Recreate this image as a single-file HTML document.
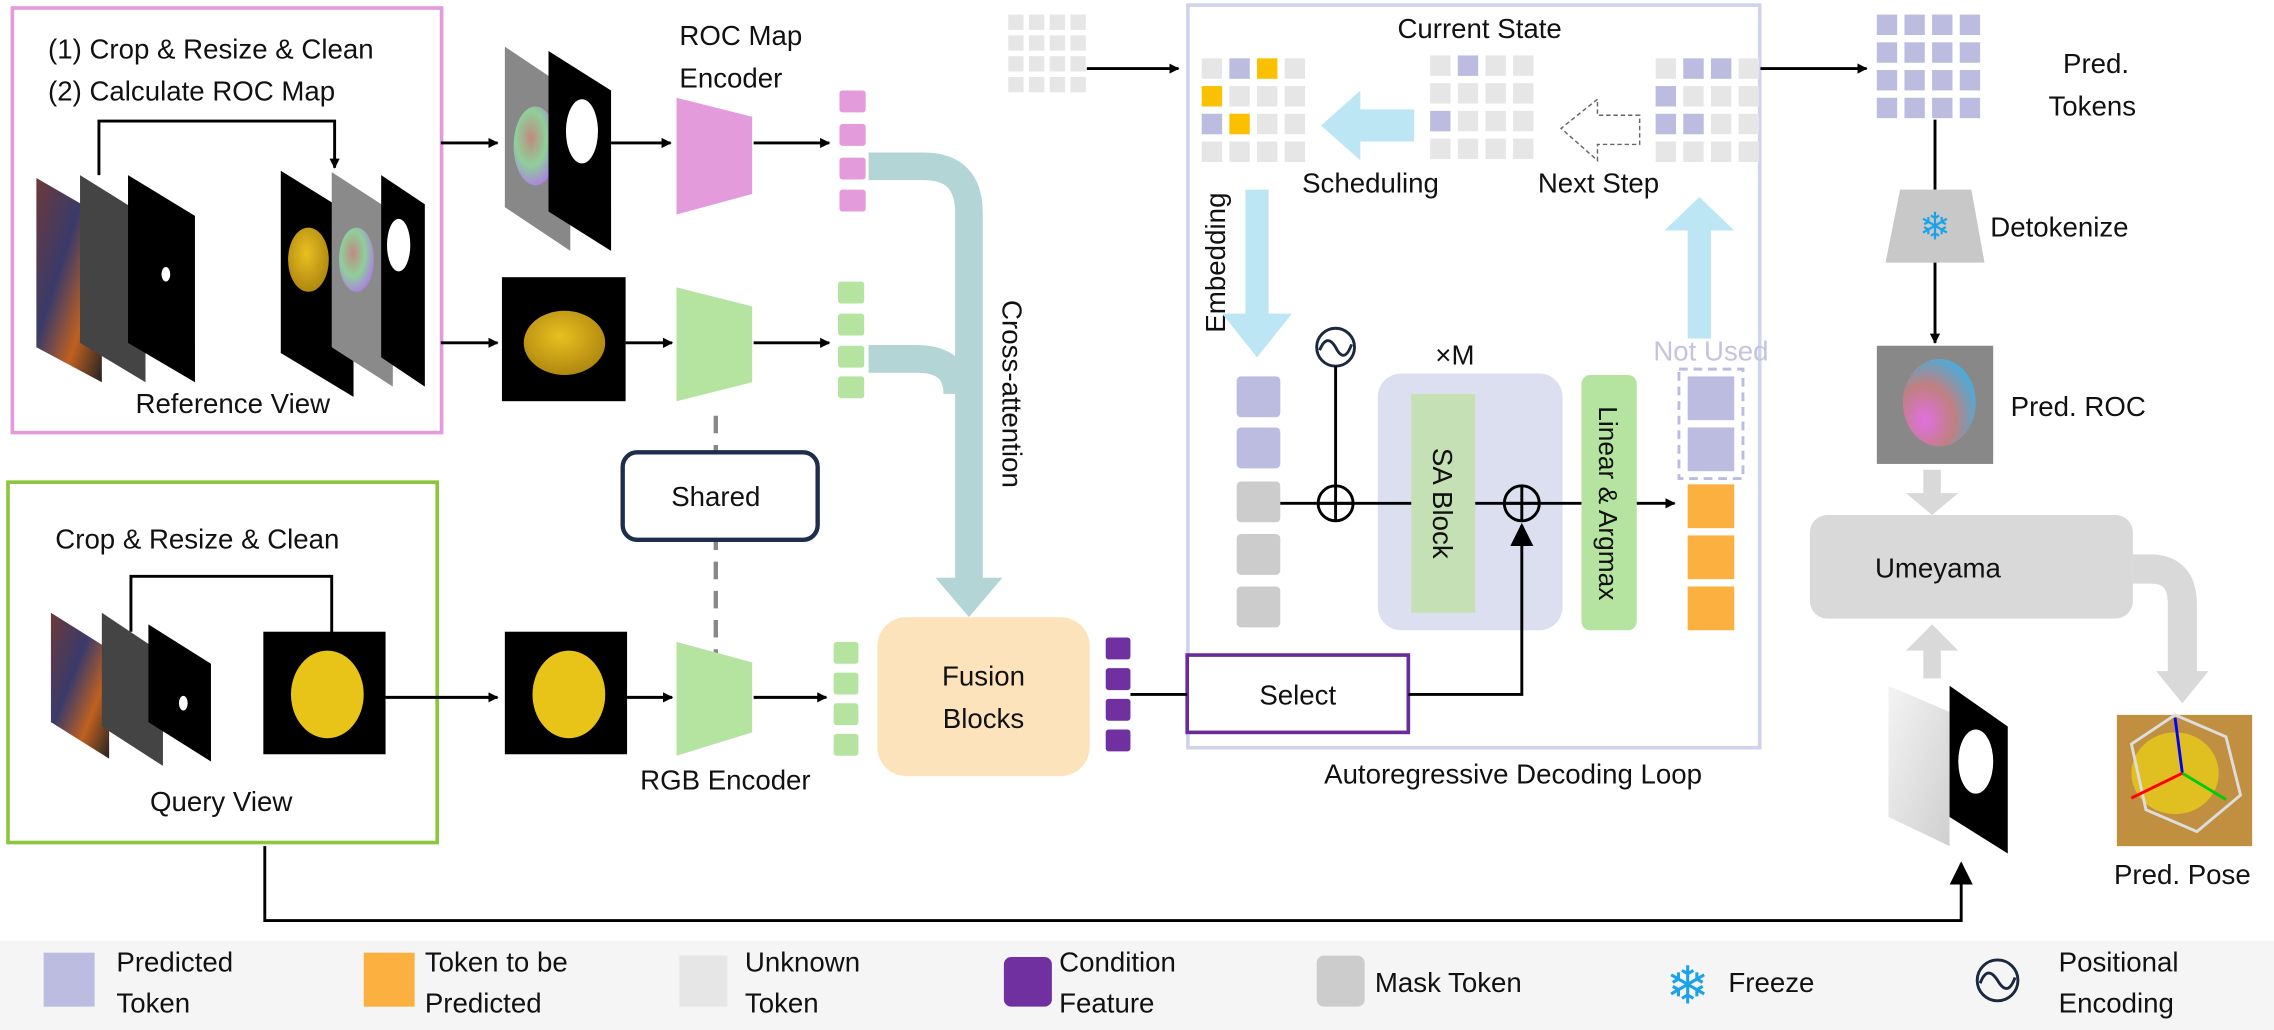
<!DOCTYPE html>
<html><head><meta charset="utf-8"><style>
html,body{margin:0;padding:0;background:#fff}
svg{display:block}
text{font-family:"Liberation Sans",sans-serif;fill:#111}
</style></head><body>
<svg width="2274" height="1030" viewBox="0 0 1563 706" preserveAspectRatio="none" xmlns="http://www.w3.org/2000/svg">
<defs>
<marker id="ah" viewBox="0 0 10 10" refX="9" refY="5" markerWidth="7" markerHeight="7" orient="auto" markerUnits="userSpaceOnUse"><path d="M0,0L10,5L0,10z" fill="#000"/></marker>
<marker id="ahb" viewBox="0 0 10 10" refX="9" refY="5" markerWidth="16" markerHeight="16" orient="auto" markerUnits="userSpaceOnUse"><path d="M0,0L10,5L0,10z" fill="#000"/></marker>
<g id="g4">
<rect x="0" y="0" width="14" height="14" fill="#e6e6e6"/><rect x="19" y="0" width="14" height="14" fill="#e6e6e6"/><rect x="38" y="0" width="14" height="14" fill="#e6e6e6"/><rect x="57" y="0" width="14" height="14" fill="#e6e6e6"/>
<rect x="0" y="19" width="14" height="14" fill="#e6e6e6"/><rect x="19" y="19" width="14" height="14" fill="#e6e6e6"/><rect x="38" y="19" width="14" height="14" fill="#e6e6e6"/><rect x="57" y="19" width="14" height="14" fill="#e6e6e6"/>
<rect x="0" y="38" width="14" height="14" fill="#e6e6e6"/><rect x="19" y="38" width="14" height="14" fill="#e6e6e6"/><rect x="38" y="38" width="14" height="14" fill="#e6e6e6"/><rect x="57" y="38" width="14" height="14" fill="#e6e6e6"/>
<rect x="0" y="57" width="14" height="14" fill="#e6e6e6"/><rect x="19" y="57" width="14" height="14" fill="#e6e6e6"/><rect x="38" y="57" width="14" height="14" fill="#e6e6e6"/><rect x="57" y="57" width="14" height="14" fill="#e6e6e6"/>
</g>
<radialGradient id="roc" cx="0.4" cy="0.4" r="0.7"><stop offset="0" stop-color="#c08a80"/><stop offset="0.5" stop-color="#8fcf9a"/><stop offset="1" stop-color="#b070f0"/></radialGradient>
<radialGradient id="roc2" cx="0.3" cy="0.7" r="0.8"><stop offset="0" stop-color="#e070e0"/><stop offset="0.5" stop-color="#c08080"/><stop offset="1" stop-color="#40b0e0"/></radialGradient>
<radialGradient id="duck" cx="0.45" cy="0.4" r="0.6"><stop offset="0" stop-color="#e8c020"/><stop offset="1" stop-color="#b08810"/></radialGradient>
<linearGradient id="scene" x1="0" y1="0" x2="1" y2="1"><stop offset="0" stop-color="#6b3a3a"/><stop offset="0.4" stop-color="#3a3a6a"/><stop offset="0.7" stop-color="#c06020"/><stop offset="1" stop-color="#222"/></linearGradient>
<linearGradient id="depth" x1="0" y1="0" x2="1" y2="1"><stop offset="0" stop-color="#f4f4f4"/><stop offset="1" stop-color="#cfcfcf"/></linearGradient>
</defs>

<rect x="8.5" y="5.5" width="295" height="291" fill="none" stroke="#e49bdc" stroke-width="2.5"/>
<text x="33" y="40" font-size="19">(1) Crop &amp; Resize &amp; Clean</text>
<text x="33" y="69" font-size="19">(2) Calculate ROC Map</text>
<path d="M68,120V83H230V115" fill="none" stroke="#000" stroke-width="2" marker-end="url(#ah)"/>
<polygon points="25,122 70,148 70,262 25,238" fill="url(#scene)"/>
<polygon points="55,120 100,148 100,262 55,235" fill="#444"/>
<polygon points="88,120 134,148 134,262 88,235" fill="#000"/>
<ellipse cx="114" cy="188" rx="3" ry="5" fill="#fff"/>
<polygon points="193,117 243,148 243,272 193,242" fill="#000"/>
<ellipse cx="212" cy="178" rx="14" ry="22" fill="url(#duck)"/>
<polygon points="228,118 270,145 270,265 228,238" fill="#8a8a8a"/>
<ellipse cx="245" cy="178" rx="12" ry="22" fill="url(#roc)"/>
<polygon points="262,120 292,140 292,265 262,245" fill="#000"/>
<ellipse cx="274" cy="168" rx="8" ry="18" fill="#fff"/>
<text x="160" y="283" font-size="19" text-anchor="middle">Reference View</text>

<line x1="303" y1="98" x2="342" y2="98" stroke="#000" stroke-width="2" marker-end="url(#ah)"/>
<polygon points="347,32 392,62 392,172 347,142" fill="#888"/>
<ellipse cx="368" cy="100" rx="15" ry="27" fill="url(#roc)"/>
<polygon points="377,35 420,62 420,172 377,145" fill="#000"/>
<ellipse cx="400" cy="90" rx="11" ry="22" fill="#fff"/>
<line x1="420" y1="98" x2="461" y2="98" stroke="#000" stroke-width="2" marker-end="url(#ah)"/>
<text x="467" y="31" font-size="19">ROC Map</text>
<text x="467" y="60" font-size="19">Encoder</text>
<polygon points="465,67 517,80 517,133 465,147" fill="#e49bdc"/>
<line x1="518" y1="98" x2="570" y2="98" stroke="#000" stroke-width="2" marker-end="url(#ah)"/>
<rect x="577" y="62" width="18" height="15" rx="2" fill="#e49bdc"/>
<rect x="577" y="85" width="18" height="15" rx="2" fill="#e49bdc"/>
<rect x="577" y="108" width="18" height="15" rx="2" fill="#e49bdc"/>
<rect x="577" y="130" width="18" height="15" rx="2" fill="#e49bdc"/>

<line x1="303" y1="235" x2="342" y2="235" stroke="#000" stroke-width="2" marker-end="url(#ah)"/>
<rect x="345" y="190" width="85" height="85" fill="#000"/>
<ellipse cx="388" cy="235" rx="28" ry="22" fill="url(#duck)"/>
<line x1="430" y1="235" x2="462" y2="235" stroke="#000" stroke-width="2" marker-end="url(#ah)"/>
<polygon points="465,197 517,210 517,262 465,275" fill="#b5e3a0"/>
<line x1="518" y1="235" x2="570" y2="235" stroke="#000" stroke-width="2" marker-end="url(#ah)"/>
<rect x="576" y="193" width="18" height="15" rx="2" fill="#b5e3a0"/>
<rect x="576" y="215" width="18" height="15" rx="2" fill="#b5e3a0"/>
<rect x="576" y="237" width="18" height="15" rx="2" fill="#b5e3a0"/>
<rect x="576" y="258" width="18" height="15" rx="2" fill="#b5e3a0"/>

<path d="M597,114H635Q666,114 666,146V398" fill="none" stroke="#b3d5d5" stroke-width="19"/>
<path d="M597,246H630Q658,246 658,270" fill="none" stroke="#b3d5d5" stroke-width="19"/>
<polygon points="643,396 689,396 666,423" fill="#b3d5d5"/>
<text transform="translate(689,270) rotate(90)" font-size="19" text-anchor="middle">Cross-attention</text>

<line x1="492" y1="285" x2="492" y2="450" stroke="#888" stroke-width="3" stroke-dasharray="12,8"/>
<rect x="428" y="310" width="134" height="60" rx="10" fill="#fff" stroke="#1f2d4d" stroke-width="3"/>
<text x="492" y="347" font-size="19" text-anchor="middle">Shared</text>

<rect x="5.5" y="330.5" width="295" height="247" fill="none" stroke="#8cc63f" stroke-width="2.5"/>
<text x="38" y="376" font-size="19">Crop &amp; Resize &amp; Clean</text>
<path d="M90,433V395H228V456" fill="none" stroke="#000" stroke-width="2" marker-end="url(#ah)"/>
<polygon points="35,420 75,445 75,520 35,495" fill="url(#scene)"/>
<polygon points="70,420 112,448 112,525 70,498" fill="#444"/>
<polygon points="102,428 145,455 145,522 102,495" fill="#000"/>
<ellipse cx="126" cy="482" rx="3" ry="5" fill="#fff"/>
<rect x="181" y="433" width="84" height="84" fill="#000"/>
<ellipse cx="225" cy="476" rx="25" ry="30" fill="#e8c418"/>
<text x="152" y="556" font-size="19" text-anchor="middle">Query View</text>
<line x1="265" y1="478" x2="342" y2="478" stroke="#000" stroke-width="2" marker-end="url(#ah)"/>
<rect x="347" y="433" width="84" height="84" fill="#000"/>
<ellipse cx="391" cy="476" rx="25" ry="30" fill="#e8c418"/>
<line x1="431" y1="478" x2="462" y2="478" stroke="#000" stroke-width="2" marker-end="url(#ah)"/>
<polygon points="465,440 517,454 517,502 465,518" fill="#b5e3a0"/>
<text x="440" y="541" font-size="19">RGB Encoder</text>
<line x1="518" y1="478" x2="568" y2="478" stroke="#000" stroke-width="2" marker-end="url(#ah)"/>
<rect x="573" y="440" width="17" height="15" rx="2" fill="#b5e3a0"/>
<rect x="573" y="461" width="17" height="15" rx="2" fill="#b5e3a0"/>
<rect x="573" y="482" width="17" height="15" rx="2" fill="#b5e3a0"/>
<rect x="573" y="503" width="17" height="15" rx="2" fill="#b5e3a0"/>
<rect x="603" y="423" width="146" height="109" rx="20" fill="#fde3bb"/>
<text x="676" y="470" font-size="19" text-anchor="middle">Fusion</text>
<text x="676" y="499" font-size="19" text-anchor="middle">Blocks</text>
<rect x="760" y="437" width="17" height="15" rx="2" fill="#7030a0"/>
<rect x="760" y="458" width="17" height="15" rx="2" fill="#7030a0"/>
<rect x="760" y="479" width="17" height="15" rx="2" fill="#7030a0"/>
<rect x="760" y="500" width="17" height="15" rx="2" fill="#7030a0"/>

<path d="M182,580V631H1348V592" fill="none" stroke="#000" stroke-width="2" marker-end="url(#ahb)"/>

<use href="#g4" transform="translate(693,10) scale(0.75)"/>
<line x1="747" y1="47" x2="810" y2="47" stroke="#000" stroke-width="2" marker-end="url(#ah)"/>

<rect x="816.5" y="3.5" width="393" height="509" fill="none" stroke="#d0d3ec" stroke-width="2.5"/>
<text x="1040" y="537" font-size="19" text-anchor="middle">Autoregressive Decoding Loop</text>
<text x="1017" y="26" font-size="19" text-anchor="middle">Current State</text>
<use href="#g4" x="826" y="40"/>
<rect x="845" y="40" width="14" height="14" fill="#bcbce0"/><rect x="864" y="40" width="14" height="14" fill="#fbc000"/>
<rect x="826" y="59" width="14" height="14" fill="#fbc000"/>
<rect x="826" y="78" width="14" height="14" fill="#bcbce0"/><rect x="845" y="78" width="14" height="14" fill="#fbc000"/>
<use href="#g4" x="983" y="38"/>
<rect x="1002" y="38" width="14" height="14" fill="#bcbce0"/>
<rect x="983" y="76" width="14" height="14" fill="#bcbce0"/>
<use href="#g4" x="1138" y="40"/>
<rect x="1157" y="40" width="14" height="14" fill="#bcbce0"/><rect x="1176" y="40" width="14" height="14" fill="#bcbce0"/>
<rect x="1138" y="59" width="14" height="14" fill="#bcbce0"/>
<rect x="1138" y="78" width="14" height="14" fill="#bcbce0"/><rect x="1157" y="78" width="14" height="14" fill="#bcbce0"/>
<polygon points="972,75 935,75 935,62 908,86 935,110 935,97 972,97" fill="#bde6f5"/>
<polygon points="1127,79 1098,79 1098,68 1073,88 1098,110 1098,99 1127,99" fill="none" stroke="#666" stroke-width="1" stroke-dasharray="3,2"/>
<text x="895" y="132" font-size="19">Scheduling</text>
<text x="1057" y="132" font-size="19">Next Step</text>
<text transform="translate(842,180) rotate(-90)" font-size="19" text-anchor="middle">Embedding</text>
<polygon points="856,130 872,130 872,215 888,215 864,245 840,215 856,215" fill="#bde6f5"/>
<polygon points="1160,232 1176,232 1176,158 1192,158 1168,135 1144,158 1160,158" fill="#bde6f5"/>

<circle cx="918" cy="238" r="13" fill="none" stroke="#1a2840" stroke-width="2"/>
<path d="M907,240Q912,228 918,238Q924,250 929,236" fill="none" stroke="#1a2840" stroke-width="2"/>
<line x1="918" y1="251" x2="918" y2="333" stroke="#000" stroke-width="2"/>
<rect x="850" y="258" width="30" height="28" rx="3" fill="#bcbce0"/>
<rect x="850" y="293" width="30" height="28" rx="3" fill="#bcbce0"/>
<rect x="850" y="330" width="30" height="28" rx="3" fill="#cccccc"/>
<rect x="850" y="366" width="30" height="28" rx="3" fill="#cccccc"/>
<rect x="850" y="402" width="30" height="28" rx="3" fill="#cccccc"/>
<text x="1000" y="250" font-size="19" text-anchor="middle">×M</text>
<rect x="947" y="256" width="127" height="176" rx="16" fill="#dcdff0"/>
<rect x="970" y="270" width="44" height="150" fill="#c5e0b4"/>
<line x1="880" y1="345" x2="970" y2="345" stroke="#000" stroke-width="2"/>
<line x1="1014" y1="345" x2="1087" y2="345" stroke="#000" stroke-width="2"/>
<circle cx="918" cy="345" r="12" fill="none" stroke="#000" stroke-width="2"/>
<line x1="906" y1="345" x2="930" y2="345" stroke="#000" stroke-width="2"/><line x1="918" y1="333" x2="918" y2="357" stroke="#000" stroke-width="2"/>
<text transform="translate(985,345) rotate(90)" font-size="19" text-anchor="middle">SA Block</text>
<circle cx="1046" cy="345" r="12" fill="none" stroke="#000" stroke-width="2"/>
<line x1="1034" y1="345" x2="1058" y2="345" stroke="#000" stroke-width="2"/><line x1="1046" y1="333" x2="1046" y2="357" stroke="#000" stroke-width="2"/>
<rect x="1087" y="257" width="38" height="175" rx="6" fill="#b5e3a0"/>
<text transform="translate(1099,345) rotate(90)" font-size="18" text-anchor="middle">Linear &amp; Argmax</text>
<line x1="1125" y1="345" x2="1151" y2="345" stroke="#000" stroke-width="2" marker-end="url(#ah)"/>
<text x="1176" y="247" font-size="19" text-anchor="middle" style="fill:#c5c3e0">Not Used</text>
<rect x="1154" y="253" width="44" height="75" fill="none" stroke="#bcbce0" stroke-width="2" stroke-dasharray="6,4"/>
<rect x="1160" y="258" width="32" height="30" fill="#bcbce0"/>
<rect x="1160" y="293" width="32" height="30" fill="#bcbce0"/>
<rect x="1160" y="332" width="32" height="30" fill="#fbb040"/>
<rect x="1160" y="367" width="32" height="30" fill="#fbb040"/>
<rect x="1160" y="402" width="32" height="30" fill="#fbb040"/>
<rect x="816" y="449" width="152" height="53" fill="#fff" stroke="#6a2c9c" stroke-width="2.5"/>
<text x="892" y="483" font-size="19" text-anchor="middle">Select</text>
<line x1="777" y1="476" x2="816" y2="476" stroke="#000" stroke-width="2"/>
<path d="M968,476H1046V360" fill="none" stroke="#000" stroke-width="2" marker-end="url(#ahb)"/>

<line x1="1210" y1="47" x2="1283" y2="47" stroke="#000" stroke-width="2" marker-end="url(#ah)"/>
<g fill="#bcbce0">
<rect x="1290" y="10" width="14" height="14"/><rect x="1309" y="10" width="14" height="14"/><rect x="1328" y="10" width="14" height="14"/><rect x="1347" y="10" width="14" height="14"/>
<rect x="1290" y="29" width="14" height="14"/><rect x="1309" y="29" width="14" height="14"/><rect x="1328" y="29" width="14" height="14"/><rect x="1347" y="29" width="14" height="14"/>
<rect x="1290" y="48" width="14" height="14"/><rect x="1309" y="48" width="14" height="14"/><rect x="1328" y="48" width="14" height="14"/><rect x="1347" y="48" width="14" height="14"/>
<rect x="1290" y="67" width="14" height="14"/><rect x="1309" y="67" width="14" height="14"/><rect x="1328" y="67" width="14" height="14"/><rect x="1347" y="67" width="14" height="14"/>
</g>
<text x="1418" y="50" font-size="19">Pred.</text>
<text x="1408" y="79" font-size="19">Tokens</text>
<line x1="1330" y1="82" x2="1330" y2="130" stroke="#000" stroke-width="2"/>
<polygon points="1306,130 1355,130 1364,180 1296,180" fill="#c8c8c8"/>
<text x="1330" y="164" font-size="26" text-anchor="middle" style="fill:#1aa3e8">❄</text>
<text x="1368" y="162" font-size="19">Detokenize</text>
<line x1="1330" y1="180" x2="1330" y2="235" stroke="#000" stroke-width="2" marker-end="url(#ah)"/>
<rect x="1290" y="237" width="80" height="81" fill="#888"/>
<ellipse cx="1333" cy="276" rx="25" ry="30" fill="url(#roc2)"/>
<text x="1382" y="285" font-size="19">Pred. ROC</text>
<polygon points="1322,322 1334,322 1334,338 1346,338 1328,353 1310,338 1322,338" fill="#d9d9d9"/>
<rect x="1244" y="353" width="222" height="71" rx="12" fill="#d9d9d9"/>
<text x="1332" y="396" font-size="19" text-anchor="middle">Umeyama</text>
<path d="M1466,390H1478Q1500,390 1500,414V462" fill="none" stroke="#d9d9d9" stroke-width="20"/>
<polygon points="1482,460 1518,460 1500,482" fill="#d9d9d9"/>
<polygon points="1322,465 1334,465 1334,446 1346,446 1328,428 1310,446 1322,446" fill="#d9d9d9"/>
<polygon points="1298,470 1340,488 1340,580 1298,560" fill="url(#depth)"/>
<polygon points="1340,470 1380,498 1380,585 1340,560" fill="#000"/>
<ellipse cx="1358" cy="522" rx="12" ry="22" fill="#fff"/>
<rect x="1455" y="490" width="93" height="90" fill="#c09040"/>
<ellipse cx="1495" cy="530" rx="30" ry="28" fill="#e0c020"/>
<polygon points="1465,510 1495,490 1530,505 1540,545 1510,570 1475,555" fill="none" stroke="#ddd" stroke-width="2"/>
<line x1="1500" y1="530" x2="1495" y2="492" stroke="#00f" stroke-width="2"/><line x1="1500" y1="530" x2="1530" y2="548" stroke="#0c0" stroke-width="2"/><line x1="1500" y1="530" x2="1465" y2="547" stroke="#f00" stroke-width="2"/>
<text x="1500" y="606" font-size="19" text-anchor="middle">Pred. Pose</text>

<rect x="0" y="645" width="1563" height="61" fill="#f5f5f5"/>
<rect x="30" y="653" width="35" height="37" fill="#bcbce0"/>
<text x="80" y="666" font-size="19">Predicted</text><text x="80" y="694" font-size="19">Token</text>
<rect x="250" y="653" width="35" height="37" fill="#fbb040"/>
<text x="292" y="666" font-size="19">Token to be</text><text x="292" y="694" font-size="19">Predicted</text>
<rect x="467" y="655" width="33" height="35" fill="#e6e6e6"/>
<text x="512" y="666" font-size="19">Unknown</text><text x="512" y="694" font-size="19">Token</text>
<rect x="690" y="656" width="33" height="34" rx="5" fill="#7030a0"/>
<text x="728" y="666" font-size="19">Condition</text><text x="728" y="694" font-size="19">Feature</text>
<rect x="905" y="655" width="33" height="35" rx="5" fill="#cccccc"/>
<text x="945" y="680" font-size="19">Mask Token</text>
<text x="1160" y="688" font-size="36" text-anchor="middle" style="fill:#1aa3e8">❄</text>
<text x="1188" y="680" font-size="19">Freeze</text>
<circle cx="1373" cy="672" r="14" fill="none" stroke="#1a2840" stroke-width="2"/>
<path d="M1361,674Q1366,661 1373,672Q1380,684 1385,670" fill="none" stroke="#1a2840" stroke-width="2"/>
<text x="1415" y="666" font-size="19">Positional</text><text x="1415" y="694" font-size="19">Encoding</text>
</svg>
</body></html>
